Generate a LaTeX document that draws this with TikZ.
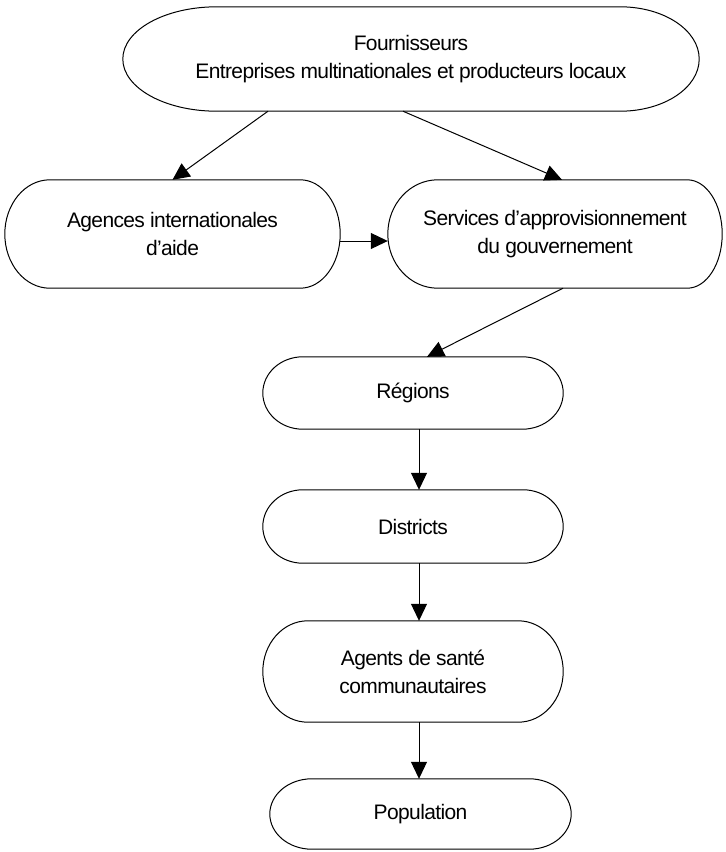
\documentclass[tikz,border=0pt]{standalone}
\usepackage{fontspec}
\setmainfont[LetterSpace=-3]{Liberation Sans}
\usetikzlibrary{calc,arrows.meta}
\tikzset{
  box/.style={draw=none, align=center, inner sep=0pt, font=\fontsize{21}{28}\selectfont},
  arr/.style={-{Triangle[length=17pt,width=16pt]}, line width=1pt},
  outline/.style={line width=1pt},
}
\newcommand\capsule[3]{%
  \draw[outline] let \p1=(#1.north west), \p2=(#1.south east), \n1={(\y1-\y2)/2} in
    (\x1+#2,\y1) -- (\x2-#3,\y1) arc[start angle=90,end angle=-90,x radius=#3,y radius=\n1]
    -- (\x1+#2,\y2) arc[start angle=270,end angle=90,x radius=#2,y radius=\n1] -- cycle;}
\begin{document}
\begin{tikzpicture}[x=1pt,y=-1pt]
\useasboundingbox (0,0) rectangle (726,852);
\node[box, minimum width=576pt, minimum height=104pt] (four) at (411,59) {Fournisseurs\\Entreprises multinationales et producteurs locaux};
\node[box, minimum width=335pt, minimum height=108pt] (agences) at (172.5,234) {Agences internationales\\d’aide};
\node[box, minimum width=334pt, minimum height=108pt] (services) at (555,234) {Services d’approvisionnement\\du gouvernement};
\node[box, minimum width=300pt, minimum height=72pt] (regions) at (413,393) {Régions};
\node[box, minimum width=300pt, minimum height=73pt] (districts) at (413,526.5) {Districts};
\node[box, minimum width=300pt, minimum height=101pt] (agents) at (413,671.5) {Agents de santé\\communautaires};
\node[box, minimum width=301pt, minimum height=70pt] (population) at (420.5,814) {Population};
\capsule{four}{94pt}{79pt}
\capsule{agences}{45pt}{40pt}
\capsule{services}{50pt}{35pt}
\capsule{regions}{40pt}{41pt}
\capsule{districts}{40pt}{40pt}
\capsule{agents}{45pt}{45pt}
\capsule{population}{42pt}{42pt}
\draw[arr] (four.south -| 268,0) -- (agences.north);
\draw[arr] (four.south -| 403,0) -- (services.north -| 562,0);
\draw[arr] (agences.east |- 0,241) -- (services.west |- 0,241);
\draw[arr] (services.south -| 563,0) -- (regions.north -| 427,0);
\draw[arr] (regions.south -| 419,0) -- (districts.north -| 419,0);
\draw[arr] (districts.south -| 419,0) -- (agents.north -| 419,0);
\draw[arr] (agents.south -| 419,0) -- (population.north -| 419,0);
\end{tikzpicture}
\end{document}
